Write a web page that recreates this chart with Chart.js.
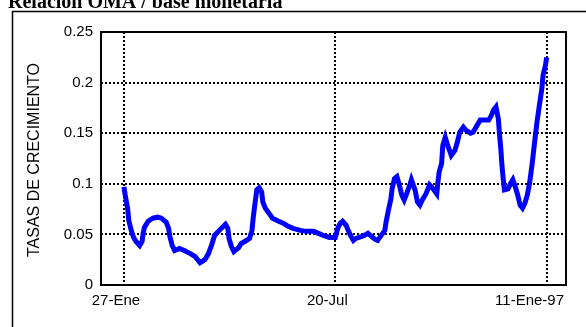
<!DOCTYPE html>
<html>
<head>
<meta charset="utf-8">
<script src="https://cdn.jsdelivr.net/npm/chart.js@4"></script>
<style>
  body { margin: 0; background: #fff; }
  canvas { display: block; }
</style>
</head>
<body>
<canvas id="grafico" width="586" height="327"></canvas>
<script>
// dias desde el 27-Ene-96
const dias = [0, 1, 3, 4, 6, 8, 10, 13, 15, 16, 17, 20, 24, 28, 31, 35, 37, 38, 40, 42,
  46, 50, 55, 59, 61, 63, 67, 70, 73, 75, 79, 84, 86, 87, 89, 91, 95, 97, 100, 104,
  106, 107, 108, 109, 110, 112, 114, 115, 117, 120, 123, 128, 132, 136, 140, 146, 151, 157, 161, 165,
  170, 175, 177, 179, 181, 184, 186, 188, 190, 192, 197, 199, 202, 205, 208, 210, 213, 216, 217, 219,
  221, 222, 224, 226, 228, 230, 232, 234, 237, 238, 241, 243, 245, 247, 250, 253, 256, 259, 260, 261,
  263, 264, 266, 268, 271, 274, 276, 278, 281, 283, 287, 289, 292, 295, 299, 302, 304, 306, 308, 310,
  311, 312, 313, 314, 315, 318, 320, 322, 324, 326, 328, 330, 332, 334, 336, 338, 340, 342, 344, 346,
  347, 349, 350];

const tasas = [0.097, 0.089, 0.076, 0.064, 0.054, 0.047, 0.043, 0.039, 0.043, 0.052, 0.057, 0.063, 0.066, 0.067, 0.066, 0.062, 0.056, 0.048, 0.039, 0.034,
  0.036, 0.034, 0.031, 0.028, 0.025, 0.022, 0.025, 0.031, 0.041, 0.049, 0.054, 0.060, 0.056, 0.046, 0.038, 0.033, 0.037, 0.041, 0.043, 0.046,
  0.054, 0.066, 0.076, 0.085, 0.094, 0.096, 0.092, 0.082, 0.076, 0.071, 0.066, 0.063, 0.061, 0.058, 0.056, 0.054, 0.053, 0.053, 0.051, 0.049,
  0.047, 0.047, 0.056, 0.061, 0.063, 0.059, 0.053, 0.048, 0.044, 0.046, 0.048, 0.049, 0.051, 0.048, 0.045, 0.044, 0.049, 0.054, 0.062, 0.074,
  0.085, 0.095, 0.105, 0.107, 0.099, 0.089, 0.084, 0.090, 0.100, 0.104, 0.094, 0.082, 0.079, 0.084, 0.090, 0.099, 0.095, 0.090, 0.102, 0.112,
  0.120, 0.138, 0.146, 0.138, 0.128, 0.133, 0.141, 0.151, 0.156, 0.153, 0.150, 0.151, 0.157, 0.163, 0.163, 0.163, 0.167, 0.173, 0.176, 0.164,
  0.148, 0.135, 0.118, 0.105, 0.094, 0.095, 0.100, 0.104, 0.097, 0.089, 0.079, 0.076, 0.081, 0.089, 0.102, 0.120, 0.141, 0.161, 0.178, 0.194,
  0.207, 0.217, 0.225];

const xTicks = [0, 175, 350];
const xLabels = ['27-Ene', '20-Jul', '11-Ene-97'];
const yTicks = [0, 0.05, 0.1, 0.15, 0.2, 0.25];
const yLabels = ['0', '0.05', '0.1', '0.15', '0.2', '0.25'];

const marco = {
  id: 'marco',
  afterDraw: function (chart) {
    var ctx = chart.ctx;
    var a = chart.chartArea;
    var sx = chart.scales.x;
    ctx.save();
    // recuadro exterior
    ctx.strokeStyle = '#000';
    ctx.lineWidth = 1.5;
    ctx.strokeRect(12.5, 11.5, 700, 400);
    // borde del area de trazado
    ctx.lineWidth = 2;
    ctx.strokeRect(a.left, a.top, a.right - a.left, a.bottom - a.top);
    // titulo
    ctx.fillStyle = '#000';
    ctx.font = 'bold 20px "Liberation Serif"';
    ctx.textBaseline = 'alphabetic';
    ctx.fillText('Relación OMA / base monetaria', 8, 8);
    // etiquetas del eje x (desplazadas como en el original)
    ctx.font = '15px "Liberation Sans"';
    ctx.textBaseline = 'middle';
    ctx.textAlign = 'center';
    for (var i = 0; i < xTicks.length; i++) {
      var px = sx.getPixelForValue(xTicks[i]) - 8;
      var w = ctx.measureText(xLabels[i]).width;
      if (px + w / 2 > 564) px = 564 - w / 2;
      ctx.fillText(xLabels[i], px, a.bottom + 16);
    }
    // titulo del eje
    ctx.font = '16px "Liberation Sans"';
    ctx.translate(35, 160);
    ctx.rotate(-Math.PI / 2);
    ctx.fillText('TASAS DE CRECIMIENTO', 0, 0);
    ctx.restore();
  }
};

var puntos = [];
for (var n = 0; n < dias.length; n++) {
  puntos.push({ x: dias[n], y: tasas[n] });
}

new Chart(document.getElementById('grafico').getContext('2d'), {
  type: 'line',
  data: {
    datasets: [{
      data: puntos,
      borderColor: '#0000ff',
      borderWidth: 5,
      pointRadius: 0,
      tension: 0
    }]
  },
  options: {
    responsive: false,
    animation: false,
    layout: { padding: { top: 32, right: 20, left: 0, bottom: 0 } },
    plugins: { legend: { display: false }, tooltip: { enabled: false } },
    scales: {
      x: {
        type: 'linear',
        min: -19,
        max: 366,
        afterBuildTicks: function (s) { s.ticks = xTicks.map(function (v) { return { value: v }; }); },
        afterFit: function (s) { s.height = 42; s.paddingLeft = 0; s.paddingRight = 0; },
        ticks: { display: false },
        grid: { color: '#000', lineWidth: 2, drawTicks: false },
        border: { display: false, dash: [2, 2] }
      },
      y: {
        min: 0,
        max: 0.25,
        afterBuildTicks: function (s) { s.ticks = yTicks.map(function (v) { return { value: v }; }); },
        afterFit: function (s) { s.width = 101; s.paddingTop = 0; s.paddingBottom = 0; },
        ticks: {
          padding: 8,
          color: '#000',
          font: { family: 'Liberation Sans', size: 15 },
          callback: function (v, i) { return yLabels[i]; }
        },
        grid: { color: '#000', lineWidth: 2, drawTicks: false },
        border: { display: false, dash: [2, 2] }
      }
    }
  },
  plugins: [marco]
});
</script>
</body>
</html>
